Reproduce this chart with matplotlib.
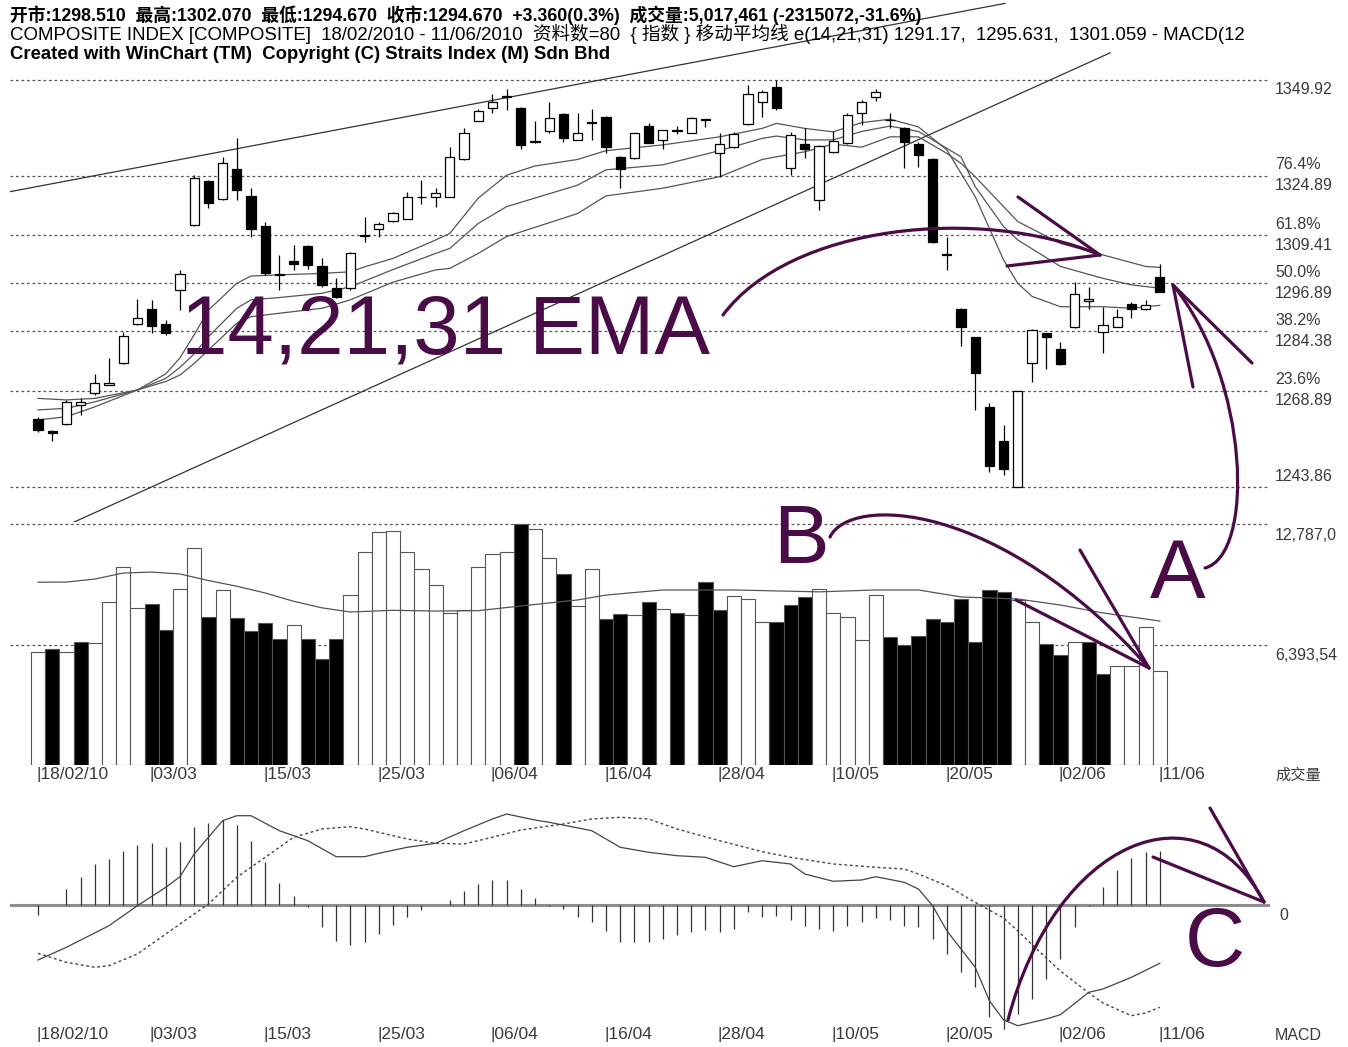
import matplotlib
matplotlib.use("Agg")
import matplotlib.pyplot as plt
import matplotlib.transforms as mtransforms
from matplotlib.path import Path
from matplotlib.patches import PathPatch

W, H = 1348, 1047

# %%
# Candles (80 sessions, 18/02/2010 - 11/06/2010)
opens = [1261.4, 1258.5, 1260.2, 1265.2, 1268.2, 1270.5, 1276.0, 1286.3, 1290.1, 1286.3,
         1295.2, 1312.1, 1323.6, 1318.8, 1326.6, 1319.7, 1311.9, 1299.3, 1302.8, 1306.6,
         1301.4, 1295.6, 1295.6, 1309.3, 1311.0, 1313.2, 1313.8, 1319.3, 1319.3, 1319.5,
         1329.2, 1339.3, 1342.5, 1345.6, 1342.5, 1334.0, 1336.5, 1341.0, 1334.4, 1338.6,
         1340.4, 1329.8, 1329.5, 1337.9, 1334.4, 1336.6, 1336.2, 1339.7, 1330.8, 1332.5,
         1338.5, 1344.3, 1348.0, 1326.9, 1333.2, 1318.6, 1331.2, 1333.4, 1341.2, 1345.6,
         1339.4, 1337.3, 1333.2, 1329.2, 1304.5, 1290.1, 1282.8, 1264.6, 1255.9, 1243.9,
         1276.0, 1283.9, 1279.9, 1285.4, 1292.4, 1284.3, 1285.6, 1291.5, 1290.1, 1298.51]
highs = [1262.1, 1258.7, 1266.5, 1266.9, 1273.3, 1277.3, 1284.3, 1292.7, 1292.6, 1287.3,
         1300.4, 1325.1, 1323.9, 1329.9, 1334.7, 1321.7, 1313.0, 1304.3, 1306.9, 1306.9,
         1303.4, 1298.2, 1305.2, 1314.3, 1313.0, 1315.6, 1320.8, 1323.9, 1321.7, 1332.5,
         1337.3, 1342.3, 1346.3, 1347.7, 1342.8, 1339.1, 1344.3, 1341.2, 1341.4, 1342.3,
         1340.5, 1330.1, 1336.2, 1338.8, 1337.0, 1337.8, 1340.4, 1339.8, 1336.2, 1336.4,
         1348.6, 1347.3, 1349.9, 1336.4, 1337.3, 1333.0, 1336.7, 1341.2, 1344.7, 1347.5,
         1341.2, 1337.7, 1333.8, 1329.5, 1309.1, 1290.4, 1283.0, 1265.8, 1260.0, 1268.9,
         1284.9, 1284.0, 1281.7, 1297.3, 1295.9, 1290.8, 1290.1, 1292.1, 1292.6, 1302.07]
lows = [1258.2, 1255.9, 1260.0, 1262.6, 1267.8, 1270.3, 1275.9, 1286.0, 1283.9, 1283.4,
        1290.0, 1311.9, 1316.5, 1318.6, 1318.6, 1309.1, 1299.1, 1295.2, 1300.4, 1300.6,
        1296.0, 1293.0, 1295.2, 1307.8, 1309.1, 1313.0, 1313.6, 1317.6, 1316.9, 1319.3,
        1329.0, 1339.1, 1341.2, 1342.1, 1331.8, 1333.6, 1336.2, 1333.8, 1334.3, 1334.3,
        1330.8, 1321.7, 1329.2, 1333.4, 1331.8, 1335.8, 1336.0, 1337.6, 1324.7, 1332.3,
        1338.2, 1340.4, 1342.1, 1325.2, 1329.5, 1316.0, 1330.8, 1333.2, 1338.2, 1344.5,
        1337.3, 1326.9, 1327.3, 1307.3, 1300.4, 1280.6, 1264.0, 1247.8, 1246.9, 1243.86,
        1271.3, 1274.5, 1275.6, 1285.2, 1290.1, 1278.8, 1285.4, 1287.8, 1289.9, 1294.67]
closes = [1258.7, 1257.8, 1266.0, 1266.0, 1270.8, 1270.8, 1283.2, 1287.8, 1285.8, 1283.9,
          1299.3, 1324.3, 1317.8, 1328.2, 1321.2, 1311.0, 1299.5, 1299.1, 1301.9, 1301.7,
          1296.5, 1293.4, 1304.7, 1309.5, 1312.4, 1315.2, 1319.5, 1319.5, 1320.5, 1329.8,
          1336.2, 1341.9, 1344.3, 1345.7, 1333.0, 1333.8, 1339.9, 1334.7, 1336.0, 1338.9,
          1332.5, 1326.6, 1336.0, 1333.6, 1336.9, 1336.8, 1340.1, 1339.5, 1333.2, 1335.8,
          1346.3, 1346.9, 1342.5, 1335.6, 1331.8, 1332.7, 1334.1, 1340.8, 1344.3, 1346.9,
          1339.6, 1333.8, 1330.4, 1307.8, 1304.2, 1285.6, 1273.4, 1249.3, 1248.4, 1268.7,
          1284.7, 1283.0, 1275.9, 1294.1, 1292.7, 1286.0, 1288.2, 1290.1, 1291.31, 1294.67]

# EMA 14 / 21 / 31 (bar index, value)
ema14_bar = [0, 2, 4, 7, 9, 10, 11, 12, 14, 15, 17, 20, 22, 23, 25, 28, 29, 31, 33, 35, 38, 40,
             44, 48, 51, 52, 54, 56, 58, 60, 62, 64, 66, 68, 69, 70, 72, 75, 77, 79]
ema14 = [1261.3, 1262.1, 1264.7, 1269.1, 1273.3, 1277.5, 1283.5, 1289.9, 1296.9, 1298.8,
         1299.1, 1299.5, 1299.9, 1301.2, 1303.4, 1308.2, 1309.9, 1319.1, 1325.1, 1327.5,
         1329.2, 1331.5, 1333.0, 1335.1, 1337.3, 1338.6, 1337.3, 1336.4, 1338.8, 1339.7,
         1337.7, 1331.7, 1319.5, 1303.0, 1296.9, 1293.5, 1290.8, 1290.8, 1290.4, 1291.17]
ema21_bar = [0, 2, 4, 7, 9, 10, 11, 12, 14, 15, 17, 20, 22, 25, 28, 29, 31, 33, 38, 40, 44, 48,
             51, 52, 54, 56, 58, 60, 62, 64, 65, 66, 68, 69, 72, 75, 77, 79]
ema21 = [1263.9, 1264.3, 1266.0, 1269.1, 1272.1, 1275.0, 1278.5, 1283.0, 1290.4, 1292.6,
         1293.2, 1294.3, 1296.0, 1300.5, 1304.7, 1306.0, 1312.5, 1316.9, 1322.5, 1326.5,
         1327.8, 1331.5, 1334.7, 1335.3, 1334.3, 1334.3, 1336.5, 1337.9, 1336.5, 1332.1,
         1329.9, 1322.1, 1311.7, 1308.2, 1301.3, 1298.2, 1296.5, 1295.631]
ema31_bar = [0, 2, 4, 7, 9, 10, 11, 12, 14, 15, 17, 20, 22, 25, 28, 29, 31, 33, 38, 40, 44, 48,
             51, 52, 54, 56, 58, 60, 62, 64, 65, 66, 68, 69, 72, 75, 78, 79]
ema31 = [1266.9, 1266.5, 1266.9, 1269.1, 1271.3, 1273.0, 1276.0, 1279.5, 1286.5, 1288.2,
         1289.1, 1290.4, 1292.6, 1297.2, 1300.4, 1300.8, 1304.7, 1309.1, 1315.1, 1319.7,
         1321.7, 1324.7, 1329.2, 1329.9, 1331.2, 1333.2, 1332.4, 1335.1, 1335.1, 1330.8,
         1328.2, 1324.7, 1316.9, 1313.0, 1307.3, 1304.3, 1301.3, 1301.059]

# trend lines drawn on the price panel (bar index, price)
upper_trend_x = [-1.97, 68.1]
upper_trend_y = [1320.8, 1369.9]
lower_trend_x = [2.39, 75.5]
lower_trend_y = [1234.4, 1357.0]

price_levels = [1349.92, 1324.89, 1309.41, 1296.89, 1284.38, 1268.89, 1243.86]
fib_labels = ['', '76.4%', '61.8%', '50.0%', '38.2%', '23.6%', '']

# volume in millions, 1 = black bar
vol = [6.01, 6.14, 6.01, 6.54, 6.49, 8.66, 10.52, 8.36, 8.58, 7.16,
       9.37, 11.53, 7.87, 9.32, 7.82, 7.11, 7.52, 6.72, 7.43, 6.72,
       5.64, 6.72, 9.05, 11.32, 12.38, 12.43, 11.32, 10.43, 9.58, 8.08,
       8.22, 10.52, 11.23, 11.32, 12.787, 12.56, 11.02, 10.17, 8.44, 10.43,
       7.78, 8.01, 7.96, 8.66, 8.31, 8.08, 7.96, 9.73, 8.26, 8.97,
       8.84, 7.60, 7.60, 8.52, 8.93, 9.37, 8.05, 7.87, 6.63, 9.05,
       6.81, 6.37, 6.84, 7.78, 7.60, 8.84, 6.54, 9.32, 9.20, 8.79,
       7.60, 6.42, 5.84, 6.54, 6.54, 4.83, 5.27, 5.27, 7.34, 5.017]
vol_black = [0, 1, 0, 1, 0, 0, 0, 0, 1, 1, 0, 0, 1, 0, 1, 1, 1, 1, 0, 1,
             1, 1, 0, 0, 0, 0, 0, 0, 0, 0, 0, 0, 0, 0, 1, 0, 0, 1, 0, 0,
             1, 1, 0, 1, 0, 1, 0, 1, 1, 0, 0, 0, 1, 1, 1, 0, 0, 0, 0, 0,
             1, 1, 1, 1, 1, 1, 1, 1, 1, 0, 0, 1, 1, 0, 1, 1, 0, 0, 0, 0]
vol_ma_bar = [0, 2, 4, 6, 8, 10, 12, 14, 16, 18, 20, 22, 25, 28, 31, 34, 36, 38, 40, 44,
              49, 55, 59, 62, 65, 69, 72, 75, 79]
vol_ma = [9.71, 9.72, 9.88, 10.2, 10.25, 10.15, 9.8, 9.5, 9.14, 8.7, 8.35, 8.13, 8.22, 8.18,
          8.2, 8.45, 8.61, 8.77, 9.03, 9.3, 9.3, 9.2, 9.3, 9.3, 8.93, 8.82, 8.5, 8.08, 7.65]
vol_levels = [6.39354, 12.787]
vol_labels = ['6,393,54', '12,787,0']

# MACD panel
macd_hist = [-1.0, 0.0, 1.6, 2.83, 4.1, 4.6, 5.37, 6.03, 6.2, 5.77,
             6.27, 7.77, 8.17, 8.5, 8.0, 6.43, 4.27, 2.2, 0.93, -0.2,
             -2.23, -3.57, -3.97, -3.73, -2.9, -2.0, -1.23, -0.5, 0.0, 0.5,
             1.43, 2.1, 2.5, 2.5, 1.57, 0.7, -0.07, -0.4, -1.23, -1.73,
             -2.57, -3.73, -3.73, -3.73, -3.4, -3.0, -2.73, -2.5, -2.73, -2.4,
             -0.73, -1.23, -1.07, -1.5, -2.07, -2.4, -2.57, -2.07, -1.73, -1.3,
             -1.5, -2.07, -2.17, -3.4, -4.9, -6.73, -8.23, -11.23, -12.4, -10.9,
             -9.4, -7.4, -5.4, -2.23, -0.1, 1.77, 3.5, 4.7, 5.27, 5.37]
macd_bar = [0, 2, 5, 7, 9, 10, 11, 13, 14, 15, 17, 19, 21, 23, 24, 26, 28, 30, 32, 33, 35, 36,
            39, 41, 43, 45, 47, 49, 51, 53, 54, 56, 58, 59, 61, 62, 63, 64, 66, 67, 68, 69,
            71, 72, 74, 75, 77, 79]
macd = [-5.5, -4.23, -2.07, -0.07, 1.77, 2.83, 5.1, 8.43, 8.93, 8.93, 7.43, 6.43, 4.83, 4.83,
        5.17, 5.77, 6.17, 7.43, 8.6, 9.1, 8.5, 8.27, 7.43, 5.77, 5.27, 4.93, 4.77, 3.83, 4.43,
        4.1, 3.1, 2.37, 2.5, 2.83, 2.27, 1.6, -0.07, -2.57, -6.23, -9.57, -11.5, -12.07,
        -11.4, -10.97, -8.73, -8.4, -7.23, -5.83]
signal_bar = [0, 2, 4, 5, 7, 10, 12, 14, 16, 18, 20, 22, 23, 26, 28, 30, 32, 34, 37, 39, 41,
              43, 45, 48, 51, 53, 56, 59, 61, 62, 64, 66, 68, 69, 71, 72, 74, 75, 77, 78, 79]
signal = [-4.83, -5.73, -6.23, -6.07, -4.9, -1.9, 0.1, 2.77, 4.77, 6.77, 7.6, 7.83, 7.6, 6.6,
          6.17, 6.1, 6.77, 7.5, 8.1, 8.6, 8.77, 8.6, 7.6, 6.43, 5.33, 4.77, 4.1, 3.77, 3.6,
          3.1, 1.93, 0.27, -1.3, -2.6, -5.3, -6.6, -8.8, -9.8, -11.07, -10.8, -10.23]

date_bars = [0, 8, 16, 24, 32, 40, 48, 56, 64, 72, 79]
date_labels = ['18/02/10', '03/03', '15/03', '25/03', '06/04', '16/04', '28/04',
               '10/05', '20/05', '02/06', '11/06']

# hand drawn annotations (figure pixels)
purple = '#4a0c47'
ema_arc = [(723, 315), (790, 225), (980, 205), (1100, 255)]
ema_head = [[(1018, 197), (1100, 255)], [(1007, 266), (1100, 255)]]
b_arc = [(830, 537), (850, 495), (1000, 500), (1149, 668)]
b_head = [[(1016, 600), (1149, 668)], [(1080, 550), (1149, 668)]]
a_arc = [(1205, 568), (1255, 555), (1250, 380), (1173, 285)]
a_head = [[(1193, 387), (1173, 285)], [(1252, 363), (1173, 285)]]
c_arc = [(1008, 1020), (1055, 840), (1200, 780), (1264, 902)]
c_head = [[(1210, 808), (1264, 902)], [(1153, 857), (1264, 902)]]

# %%
fig = plt.figure(figsize=(W / 100, H / 100), dpi=100)
fig.patch.set_facecolor('white')

x0 = (10 - 38) / 14.2
x1 = (1270 - 38) / 14.2


def panel(top, bottom):
    a = fig.add_axes([10 / W, 1 - bottom / H, 1260 / W, (bottom - top) / H])
    a.set_xlim(x0, x1)
    a.axis('off')
    return a


ax_p = panel(0, 522)
ax_p.set_ylim(1349.92 - 442 / 3.835, 1349.92 + 80 / 3.835)
ax_v = panel(522, 765)
ax_v.set_ylim(0, 243 / 18.82)
ax_m = panel(790, 1032)
ax_m.set_ylim(-12.7, 11.5)

grid_kw = dict(color='#555555', lw=0.9, ls=(0, (2.2, 2.2)), zorder=1)
lab_font = ['Liberation Sans', 'DejaVu Sans']
lab_col = '#3a3a3a'

# price panel
for lev, pct in zip(price_levels, fib_labels):
    ax_p.axhline(lev, **grid_kw)
    tr = mtransforms.blended_transform_factory(ax_p.transAxes, ax_p.transData)
    dy = 10 if lev == 1243.86 else -10
    ax_p.text(1.004, lev, f'{lev:.2f}', transform=mtransforms.offset_copy(tr, fig=fig, y=dy, units='dots'),
              va='center', ha='left', fontsize=11.5, family=lab_font, color=lab_col, clip_on=False)
    if pct:
        ax_p.text(1.004, lev, pct, transform=mtransforms.offset_copy(tr, fig=fig, y=11, units='dots'),
                  va='center', ha='left', fontsize=11.5, family=lab_font, color=lab_col, clip_on=False)

ax_p.plot(upper_trend_x, upper_trend_y, color='#333333', lw=0.9, zorder=2)
ax_p.plot(lower_trend_x, lower_trend_y, color='#333333', lw=0.9, zorder=2)
for bx, by in [(ema14_bar, ema14), (ema21_bar, ema21), (ema31_bar, ema31)]:
    ax_p.plot(bx, by, color='#555555', lw=0.9, zorder=2)

xs = list(range(len(opens)))
ax_p.vlines(xs, lows, highs, color='black', lw=0.9, zorder=3)
body_low = [min(o, c) for o, c in zip(opens, closes)]
body_h = [max(abs(c - o), 0.15) for o, c in zip(opens, closes)]
body_col = ['black' if c < o else 'white' for o, c in zip(opens, closes)]
ax_p.bar(xs, body_h, bottom=body_low, width=0.64, color=body_col, edgecolor='black', lw=0.9, zorder=4)

# volume panel
for lev, lab in zip(vol_levels, vol_labels):
    ax_v.axhline(lev, **grid_kw)
    tr = mtransforms.blended_transform_factory(ax_v.transAxes, ax_v.transData)
    ax_v.text(1.004, lev, lab, transform=mtransforms.offset_copy(tr, fig=fig, y=-11, units='dots'),
              va='center', ha='left', fontsize=11.5, family=lab_font, color=lab_col, clip_on=False)
ax_v.bar(xs, vol, width=1.0, color=['black' if b else 'white' for b in vol_black],
         edgecolor='#555555', lw=0.8, zorder=2)
ax_v.plot(vol_ma_bar, vol_ma, color='#555555', lw=0.9, zorder=3)

# MACD panel
ax_m.axhline(0, color='#8c8c8c', lw=2.2, zorder=1)
ax_m.vlines(xs, 0, macd_hist, color='#333333', lw=0.9, zorder=2)
ax_m.plot(macd_bar, macd, color='#444444', lw=0.9, zorder=3)
ax_m.plot(signal_bar, signal, color='#444444', lw=1.0, ls=(0, (2, 2)), zorder=3)

for a, dy in [(ax_v, -10), (ax_m, -3)]:
    tr = mtransforms.blended_transform_factory(a.transData, a.transAxes)
    for b, lab in zip(date_bars, date_labels):
        a.text(b - 0.12, 0, '|' + lab, transform=mtransforms.offset_copy(tr, fig=fig, y=dy, units='dots'),
               va='center', ha='left', fontsize=12.5, family=lab_font, color=lab_col, clip_on=False)

# %%
# overlay in pixel space: header + hand drawn marks
ax_o = fig.add_axes([0, 0, 1, 1])
ax_o.set_xlim(0, W)
ax_o.set_ylim(H, 0)
ax_o.axis('off')
ax_o.patch.set_alpha(0)

head_font = ['Liberation Sans Narrow', 'Liberation Sans', 'Noto Sans CJK SC']
ax_o.text(10, 21, '开市:1298.510  最高:1302.070  最低:1294.670  收市:1294.670  +3.360(0.3%)  '
          '成交量:5,017,461 (-2315072,-31.6%)', family=head_font, fontsize=12.8, weight='bold',
          va='baseline', ha='left')
ax_o.text(10, 40, 'COMPOSITE INDEX [COMPOSITE]  18/02/2010 - 11/06/2010  资料数=80  { 指数 } '
          '移动平均线 e(14,21,31) 1291.17,  1295.631,  1301.059 - MACD(12',
          family=['Liberation Sans', 'Noto Sans CJK SC'], fontsize=13.4, va='baseline', ha='left')
ax_o.text(10, 59, 'Created with WinChart (TM)  Copyright (C) Straits Index (M) Sdn Bhd',
          family=['Liberation Sans', 'DejaVu Sans'], fontsize=13.3, weight='bold', va='baseline', ha='left')

ax_o.text(1275, 775, '成交量', family=['Noto Sans CJK SC'], fontsize=11, color=lab_col, va='center', ha='left')
ax_o.text(1275, 1035, 'MACD', family=lab_font, fontsize=11.5, color=lab_col, va='center', ha='left')
ax_o.text(1279, 915, '0', family=lab_font, fontsize=11.5, color=lab_col, va='center', ha='left')

big = dict(family=['Liberation Sans', 'DejaVu Sans'], fontsize=60, color=purple, va='baseline', ha='left')
ax_o.text(181, 353, '14,21,31 EMA', **big)
ax_o.text(773, 563, 'B', **big)
ax_o.text(1150, 598, 'A', **big)
ax_o.text(1185, 966, 'C', **big)

codes = [Path.MOVETO, Path.CURVE4, Path.CURVE4, Path.CURVE4]
for arc, head in [(ema_arc, ema_head), (b_arc, b_head), (a_arc, a_head), (c_arc, c_head)]:
    ax_o.add_patch(PathPatch(Path(arc, codes), facecolor='none', edgecolor=purple, lw=2.3,
                             capstyle='round'))
    for seg in head:
        ax_o.plot([seg[0][0], seg[1][0]], [seg[0][1], seg[1][1]], color=purple, lw=2.3,
                  solid_capstyle='round')

fig.savefig('out.png', dpi=100)
